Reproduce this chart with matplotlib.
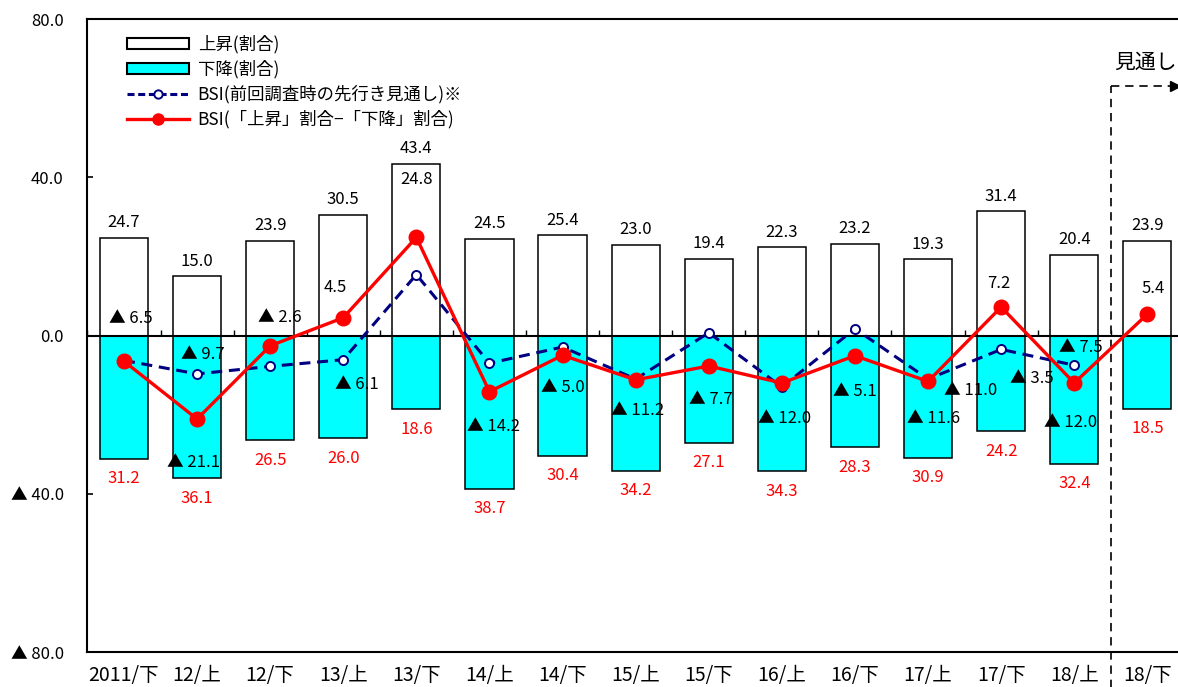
import numpy as np
import matplotlib
matplotlib.use("Agg")
import matplotlib.pyplot as plt
from matplotlib.patches import Patch
from matplotlib.lines import Line2D

plt.rcParams['font.family'] = ['Noto Sans CJK JP', 'DejaVu Sans']

# ---- data ----
categories = ['2011/下', '12/上', '12/下', '13/上', '13/下', '14/上', '14/下',
              '15/上', '15/下', '16/上', '16/下', '17/上', '17/下', '18/上', '18/下']
up_share = [24.7, 15.0, 23.9, 30.5, 43.4, 24.5, 25.4, 23.0, 19.4, 22.3, 23.2, 19.3, 31.4, 20.4, 23.9]
down_share = [31.2, 36.1, 26.5, 26.0, 18.6, 38.7, 30.4, 34.2, 27.1, 34.3, 28.3, 30.9, 24.2, 32.4, 18.5]
bsi = [-6.5, -21.1, -2.6, 4.5, 24.8, -14.2, -5.0, -11.2, -7.7, -12.0, -5.1, -11.6, 7.2, -12.0, 5.4]
bsi_prev = [-6.3, -9.7, -7.8, -6.1, 15.4, -7.0, -2.9, -11.0, 0.7, -13.0, 1.7, -11.0, -3.5, -7.5]
bsi_prev_labeled = [1, 3, 11, 12, 13]
ytick_values = [80, 40, 0, -40, -80]
ytick_labels = ['80.0', '40.0', '0.0', '▲ 40.0', '▲ 80.0']
legend_labels = ['上昇(割合)', '下降(割合)', 'BSI(前回調査時の先行き見通し)※', 'BSI(「上昇」割合−「下降」割合)']
outlook_label = '見通し'

# label offsets in pixels (placement only)
bsi_label_off = [(7, 43), (-3, -43), (10, 28), (-8, 30), (0, 58), (4, -35), (0, -32), (2, -31),
                 (2, -34), (3, -35), (0, -36), (6, -37), (-2, 24), (-4, -39), (6, 26)]
prev_label_off = [(6, 19), (14, -25), (43, -11), (31, -29), (7, 18)]


def fmt(v):
    return f'▲ {abs(v):.1f}' if v < 0 else f'{v:.1f}'


n = len(categories)
x = np.arange(n)

fig = plt.figure(figsize=(11.78, 6.87), dpi=100)
ax = fig.add_axes([0.0742, 0.0509, 0.9308, 0.9214])
ax.set_xlim(-0.5, n - 0.5)
ax.set_ylim(-80, 80)

bw = 0.66
ax.bar(x, up_share, width=bw, color='white', edgecolor='black', linewidth=1.1, zorder=2)
ax.bar(x, [-d for d in down_share], width=bw, color='#00FFFF', edgecolor='black', linewidth=1.1, zorder=2)

ax.axhline(0, color='black', lw=1.5, zorder=3)
ax.vlines(np.arange(n + 1) - 0.5, 0, 1.3, color='black', lw=1.0, zorder=3)

xp = np.arange(len(bsi_prev))
ax.plot(xp, bsi_prev, color='#000080', lw=2.2, dashes=(3.6, 2.2), marker='o', markersize=6.5,
        markerfacecolor='white', markeredgecolor='#000080', markeredgewidth=1.4, zorder=4)
ax.plot(x, bsi, color='#FF0000', lw=2.4, marker='o', markersize=10.5,
        markerfacecolor='#FF0000', markeredgecolor='#FF0000', zorder=5)

# bar labels
for i in range(n):
    ax.annotate(fmt(up_share[i]), (x[i], up_share[i]), xytext=(0, 15), textcoords='offset pixels',
                ha='center', va='center', fontsize=12, color='black', zorder=6)
    ax.annotate(f'{down_share[i]:.1f}', (x[i], -down_share[i]), xytext=(0, -20),
                textcoords='offset pixels', ha='center', va='center', fontsize=12,
                color='#FF0000', zorder=6)
    dx, dy = bsi_label_off[i]
    ax.annotate(fmt(bsi[i]), (x[i], bsi[i]), xytext=(dx, dy), textcoords='offset pixels',
                ha='center', va='center', fontsize=12, color='black', zorder=6)
for k, i in enumerate(bsi_prev_labeled):
    dx, dy = prev_label_off[k]
    ax.annotate(fmt(bsi_prev[i]), (xp[i], bsi_prev[i]), xytext=(dx, dy), textcoords='offset pixels',
                ha='center', va='center', fontsize=12, color='black', zorder=6)

# axes styling
ax.set_xticks(x)
ax.set_xticklabels(categories, fontsize=14)
ax.tick_params(axis='x', length=0, pad=9)
ax.set_yticks(ytick_values)
ax.set_yticklabels(ytick_labels, fontsize=12)
ax.tick_params(axis='y', direction='in', length=4, width=1.2, pad=17)
for s in ['left', 'top', 'bottom']:
    ax.spines[s].set_linewidth(1.5)
ax.spines['right'].set_visible(False)

# outlook marker
xb = n - 1.5
ax.plot([xb, xb], [-92, 63], color='black', lw=1.2, ls=(0, (5, 3.5)), clip_on=False, zorder=3)
ax.plot([xb, n - 0.62], [63, 63], color='black', lw=1.2, ls=(0, (5, 3.5)), clip_on=False, zorder=3)
ax.plot([n - 0.62], [63], marker='>', color='black', markersize=7, clip_on=False, zorder=3)
ax.text(n - 1.02, 69, outlook_label, ha='center', va='center', fontsize=15, clip_on=False)

# legend
handles = [
    Patch(facecolor='white', edgecolor='black', linewidth=1.5),
    Patch(facecolor='#00FFFF', edgecolor='black', linewidth=1.5),
    Line2D([], [], color='#000080', lw=2.2, dashes=(2.3, 1.2), marker='o', markersize=6,
           markerfacecolor='white', markeredgecolor='#000080', markeredgewidth=1.4),
    Line2D([], [], color='#FF0000', lw=2.4, marker='o', markersize=8,
           markerfacecolor='#FF0000', markeredgecolor='#FF0000'),
]
ax.legend(handles, legend_labels, loc='upper left', bbox_to_anchor=(0.036, 0.975), frameon=False,
          fontsize=12.5, handlelength=3.56, handleheight=0.57, handletextpad=0.52, labelspacing=0.38,
          borderpad=0, borderaxespad=0)

fig.savefig('out.png', dpi=100)
